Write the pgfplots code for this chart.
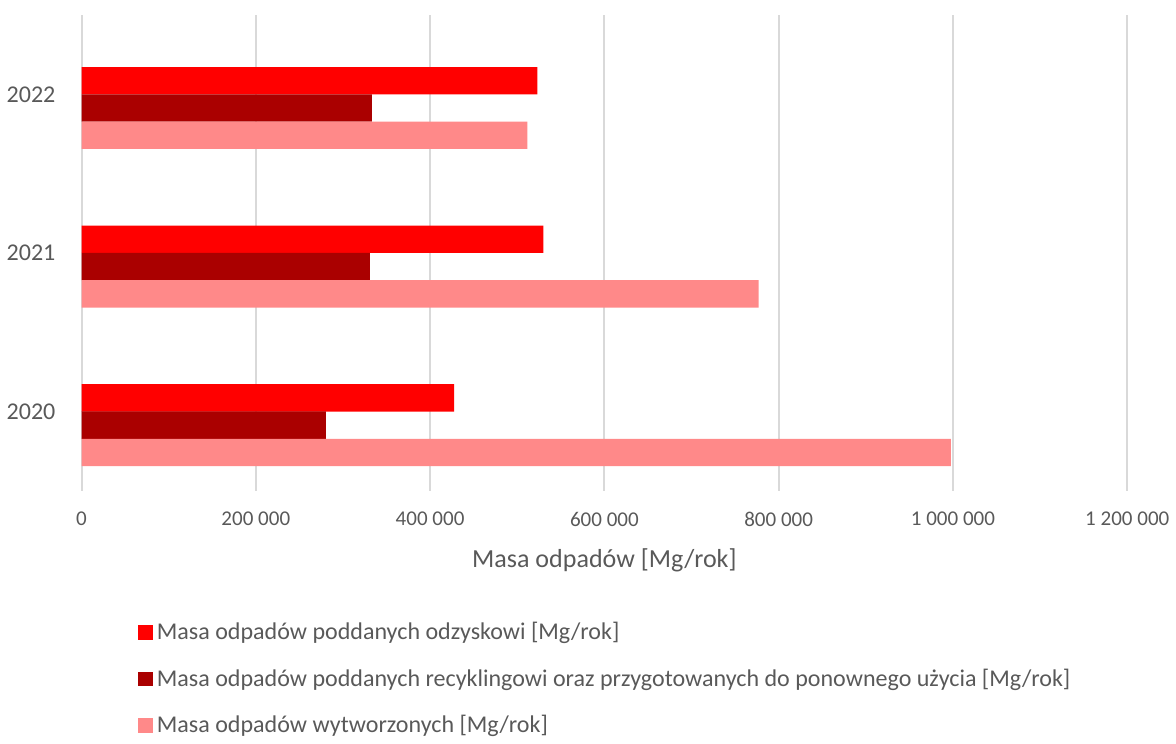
\documentclass[border=0pt]{standalone}
\usepackage{fontspec}
\setmainfont{Carlito}
\usepackage{pgfplots}
\pgfplotsset{compat=1.18}

\definecolor{odzysk}{HTML}{FF0000}
\definecolor{recykl}{HTML}{AA0000}
\definecolor{wytw}{HTML}{FF8989}
\definecolor{txt}{HTML}{595959}
\definecolor{siatka}{HTML}{D9D9D9}

\begin{document}
\begin{tikzpicture}
  \begin{axis}[
    xbar,
    width=522pt,
    height=237.5pt,
    scale only axis,
    bar width=13.65pt,
    xmin=0, xmax=1200000,
    ymin=-0.5, ymax=2.5,
    xtick={0,200000,400000,600000,800000,1000000,1200000},
    ytick={0,1,2},
    yticklabels={2020,2021,2022},
    scaled ticks=false,
    /pgf/number format/fixed,
    /pgf/number format/1000 sep={\ },
    /pgf/number format/assume math mode=true,
    xmajorgrids=true,
    grid style={siatka, line width=1pt},
    axis line style={draw=none},
    major tick length=0pt,
    tick label style={font=\fontsize{10.5}{12}\selectfont, text=txt},
    yticklabel style={font=\fontsize{12}{13}\selectfont, xshift=-9.5pt},
    xticklabel style={yshift=-7pt},
    xlabel={Masa odpadów [Mg/rok]},
    xlabel style={font=\fontsize{13}{15}\selectfont, text=txt, yshift=-4pt},
    legend style={
      at={(rel axis cs:0,0)}, anchor=north west,
      xshift=25pt, yshift=-61.5pt,
      draw=none, fill=none,
      font=\fontsize{12}{13}\selectfont, text=txt,
      legend cell align=left,
      row sep=9pt,
    },
    legend image code/.code={
      \fill[#1] (0pt,-3.7pt) rectangle (7.4pt,3.7pt);
    },
  ]
    \addplot[fill=odzysk, draw=none, bar shift=6.8pt] coordinates {
      (427600,0) (529900,1) (523000,2)
    };
    \addplot[fill=recykl, draw=none, bar shift=-6.8pt] coordinates {
      (280500,0) (331000,1) (333300,2)
    };
    \addplot[fill=wytw, draw=none, bar shift=-20.45pt] coordinates {
      (997700,0) (777000,1) (511500,2)
    };
    \legend{Masa odpadów poddanych odzyskowi [Mg/rok],
      Masa odpadów poddanych recyklingowi oraz przygotowanych do ponownego użycia [Mg/rok],
      Masa odpadów wytworzonych [Mg/rok]}
  \end{axis}
  \path ([yshift=7.5pt]current axis.north);
\end{tikzpicture}
\end{document}
